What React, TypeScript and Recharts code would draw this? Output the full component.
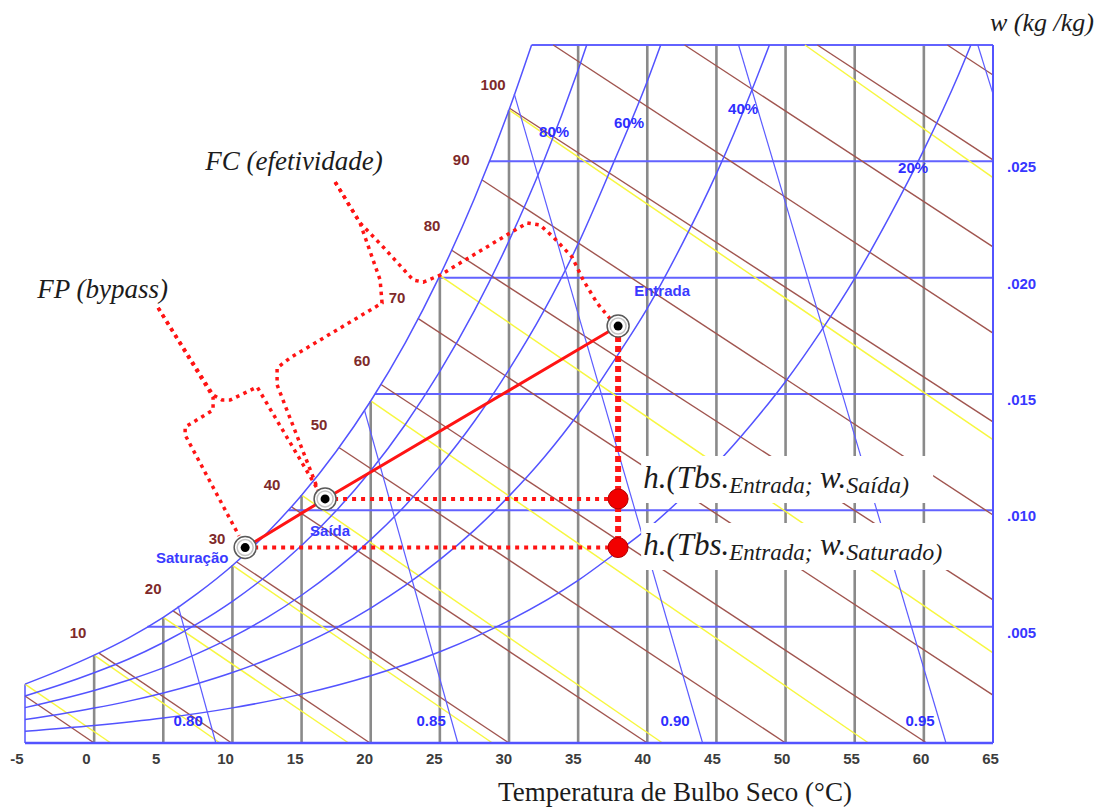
import React from 'react';
import { ComposedChart, Line, XAxis, YAxis, Label } from 'recharts';

// ---------- axis ticks ----------
const xTicks = [-5, 0, 5, 10, 15, 20, 25, 30, 35, 40, 45, 50, 55, 60, 65];
const yTicks = [0.005, 0.01, 0.015, 0.02, 0.025];
const yTickLabels = ['.005', '.010', '.015', '.020', '.025'];

// ---------- curves: [dry bulb °C, humidity ratio kg/kg] ----------
const saturation = [
  [-5, 0.00253], [-2.5, 0.00312], [0, 0.003775], [2.5, 0.00452], [5, 0.0054], [7.5, 0.00644],
  [10, 0.00763], [12.5, 0.00903], [15, 0.01065], [17.5, 0.01253], [20, 0.0147], [22.5, 0.0172],
  [25, 0.02009], [27.5, 0.0234], [30, 0.02721], [31.63, 0.03],
];
const rh80 = [
  [-5, 0.00202], [-2.5, 0.00249], [0, 0.00302], [2.5, 0.00361], [5, 0.00432], [7.5, 0.00514],
  [10, 0.00609], [12.5, 0.0072], [15, 0.00849], [17.5, 0.00998], [20, 0.0117], [22.5, 0.01369],
  [25, 0.01597], [27.5, 0.01858], [30, 0.02158], [32.5, 0.02499], [35, 0.02893], [35.62, 0.03],
];
const rh60 = [
  [-5, 0.00152], [-2.5, 0.00187], [0, 0.00226], [2.5, 0.00271], [5, 0.00323], [7.5, 0.00385],
  [10, 0.00456], [12.5, 0.00539], [15, 0.00635], [17.5, 0.00746], [20, 0.00874], [22.5, 0.01021],
  [25, 0.0119], [27.5, 0.01383], [30, 0.01605], [32.5, 0.01855], [35, 0.02145], [37.5, 0.02486],
  [40, 0.02844], [40.97, 0.03],
];
const rh40 = [
  [-5, 0.00101], [-2.5, 0.00124], [0, 0.0015], [2.5, 0.0018], [5, 0.00215], [7.5, 0.00256],
  [10, 0.00303], [12.5, 0.00358], [15, 0.00422], [17.5, 0.00495], [20, 0.0058], [22.5, 0.00677],
  [25, 0.00788], [27.5, 0.00915], [30, 0.01061], [32.5, 0.01225], [35, 0.01414], [37.5, 0.01635],
  [40, 0.01868], [42.5, 0.02142], [45, 0.02447], [47.5, 0.02797], [48.83, 0.03],
];
const rh20 = [
  [-5, 0.0005], [0, 0.00075], [5, 0.00107], [10, 0.00151], [15, 0.0021], [20, 0.00289],
  [25, 0.00392], [30, 0.00526], [35, 0.00699], [37.5, 0.00807], [40, 0.0092], [42.5, 0.01053],
  [45, 0.012], [47.5, 0.01368], [50, 0.01554], [52.5, 0.01765], [55, 0.01997], [57.5, 0.02261],
  [60, 0.02549], [62.5, 0.02871], [63.4, 0.03],
];

// vertical dry-bulb lines: [T, top humidity ratio]
const dryBulbLines = [
  [0, 0.003775], [5, 0.0054], [10, 0.00763], [15, 0.01065], [20, 0.0147], [25, 0.02009],
  [30, 0.02721], [35, 0.03], [40, 0.03], [45, 0.03], [50, 0.03], [55, 0.03], [60, 0.03],
];
// horizontal humidity lines: [w, start T on saturation]
const humidityLines = [
  [0.005, 3.85], [0.01, 14.05], [0.015, 20.3], [0.02, 24.96], [0.025, 28.55], [0.03, 31.63],
];
// left edge of the chart at -5 °C
const leftEdge = [[-5, 0], [-5, 0.00253]];

// enthalpy lines (kJ/kg): start and end
const enthalpyLines = [
  [[-5, 0.00202], [0, 0]],
  [[0.35, 0.00386], [9.94, 0]],
  [[5.68, 0.00569], [19.95, 0]],
  [[10.29, 0.00779], [30.0, 0]],
  [[14.24, 0.01016], [40.0, 0]],
  [[17.7, 0.0127], [50.0, 0]],
  [[20.72, 0.01542], [60.2, 0]],
  [[23.41, 0.01825], [65, 0.00206]],
  [[25.83, 0.02119], [65, 0.00615]],
  [[28.03, 0.02421], [65, 0.0098]],
  [[30.04, 0.02728], [65, 0.0138]],
  [[33.2, 0.03], [65, 0.01762]],
  [[42.7, 0.03], [65, 0.02132]],
  [[52.3, 0.03], [65, 0.02506]],
  [[61.7, 0.03], [65, 0.02871]],
];
// wet bulb lines
const wetBulbLines = [
  [[-5, 0.00253], [1.2, 0]],
  [[0, 0.003775], [9.1, 0]],
  [[5, 0.0054], [18.4, 0]],
  [[10, 0.00763], [28.8, 0]],
  [[15, 0.01065], [41.1, 0]],
  [[20, 0.0147], [56.0, 0]],
  [[25, 0.02009], [65, 0.00387]],
  [[30, 0.02721], [65, 0.01304]],
  [[51.4, 0.03], [65, 0.0243]],
];
// specific volume lines (m³/kg)
const volumeLines = [
  [[6.07, 0.00589], [8.8, 0]],
  [[19.55, 0.0143], [26.3, 0]],
  [[30.38, 0.0279], [44.0, 0]],
  [[46.6, 0.03], [61.6, 0]],
  [[63.9, 0.03], [65, 0.0279]],
];

// ---------- scale labels ----------
const enthalpyLabels = [
  { t: -1.16, w: 0.00477, label: '10' }, { t: 4.27, w: 0.00662, label: '20' },
  { t: 8.89, w: 0.00877, label: '30' }, { t: 12.87, w: 0.01109, label: '40' },
  { t: 16.27, w: 0.01371, label: '50' }, { t: 19.38, w: 0.01646, label: '60' },
  { t: 21.91, w: 0.01913, label: '70' }, { t: 24.44, w: 0.02226, label: '80' },
  { t: 26.54, w: 0.0251, label: '90' }, { t: 28.85, w: 0.02832, label: '100' },
];
const rhLabels = [
  { t: 33.26, w: 0.0263, label: '80%' }, { t: 38.68, w: 0.02669, label: '60%' },
  { t: 46.93, w: 0.02729, label: '40%' }, { t: 59.22, w: 0.02473, label: '20%' },
];
const volumeLabels = [
  { t: 6.8, w: 0.00095, label: '0.80' }, { t: 24.37, w: 0.00095, label: '0.85' },
  { t: 42.01, w: 0.00095, label: '0.90' }, { t: 59.73, w: 0.00095, label: '0.95' },
];

// ---------- process ----------
const statePoints = [
  { t: 37.89, w: 0.01792, label: 'Entrada' },
  { t: 16.7, w: 0.01049, label: 'Saída' },
  { t: 10.92, w: 0.0084, label: 'Saturação' },
];
const stateLabels = [
  { t: 41.07, w: 0.01943, label: 'Entrada' },
  { t: 17.06, w: 0.00915, label: 'Saída' },
  { t: 7.09, w: 0.00799, label: 'Saturação' },
];
const processLine = [[10.92, 0.0084], [16.7, 0.01049], [37.89, 0.01792]];
const enthalpyPoints = [[37.89, 0.01049], [37.89, 0.0084]];
const dottedSaida = [[16.7, 0.01049], [37.89, 0.01049]];
const dottedSaturacao = [[10.92, 0.0084], [37.89, 0.0084]];
const dottedVertical = [[37.89, 0.01792], [37.89, 0.0084]];

const fpBraceA = [
  [4.63, 0.0187], [8.6, 0.01496], [9.26, 0.01474], [9.83, 0.01474], [11.79, 0.0153], [16.2, 0.01087],
];
const fpBraceB = [
  [4.63, 0.0187], [8.6, 0.01487], [8.6, 0.01431], [6.58, 0.01358], [6.58, 0.01324], [10.48, 0.0089],
];
const fcBraceC = [
  [17.43, 0.02411], [19.23, 0.02235], [20.68, 0.0199], [20.82, 0.01891], [14.17, 0.01655],
  [13.23, 0.01612], [13.23, 0.01539], [16.2, 0.01087],
];
const fcBraceD = [
  [17.43, 0.02411], [19.23, 0.02235], [20.9, 0.02132], [23.07, 0.0199], [23.8, 0.01981],
  [25.02, 0.02011], [27.19, 0.02089], [30.08, 0.02192], [31.31, 0.02235], [32.25, 0.02226],
  [33.19, 0.02175], [34.56, 0.02089], [35.36, 0.0199], [36.37, 0.01891], [37.38, 0.01818],
];

const annotations = [
  { t: 8.03, w: 0.02463, label: 'FC (efetividade)' },
  { t: -4.12, w: 0.01913, label: 'FP (bypass)' },
];
const hLabels = [
  { t: 39.7, w: 0.01096, sub: 'Saída)' },
  { t: 39.7, w: 0.00808, sub: 'Saturado)' },
];

// ---------- helpers ----------
const pts = (a: number[][]) => a.map(([t, w]) => ({ t, w }));
const BLUE = '#5353ff';
const SANS = 'Liberation Sans, Arial, sans-serif';
const SERIF = 'Liberation Serif, Times New Roman, serif';

const textDot = (color: string, size: number, prefix: string) => (p: any) => (
  <text
    key={`${prefix}-${p.index}`}
    x={p.cx}
    y={p.cy}
    textAnchor="middle"
    dominantBaseline="central"
    fontFamily={SANS}
    fontWeight="bold"
    fontSize={size}
    fill={color}
  >
    {p.payload.label}
  </text>
);

const ringDot = (p: any) => (
  <g key={`ring-${p.index}`}>
    <circle cx={p.cx} cy={p.cy} r={11} fill="#fff" stroke="#5a5a5a" strokeWidth={1.5} />
    <circle cx={p.cx} cy={p.cy} r={8} fill="none" stroke="#c4c4c4" strokeWidth={1.5} />
    <circle cx={p.cx} cy={p.cy} r={4.5} fill="#000" />
  </g>
);

const redDot = (p: any) => (
  <circle key={`red-${p.index}`} cx={p.cx} cy={p.cy} r={10} fill="#f20000" stroke="#b00000" strokeWidth={1} />
);

const annotationDot = (p: any) => (
  <text
    key={`ann-${p.index}`}
    x={p.cx}
    y={p.cy}
    fontFamily={SERIF}
    fontStyle="italic"
    fontSize={27}
    fill="#1c1c1c"
  >
    {p.payload.label}
  </text>
);

const hLabelDot = (p: any) => {
  const sub: string = p.payload.sub;
  const boxW = 292 + (sub.length - 6) * 6;
  return (
    <g key={`hl-${p.index}`}>
      <rect x={p.cx - 2} y={p.cy - 32} width={boxW} height={47} fill="#fff" />
      <text x={p.cx} y={p.cy} fontFamily={SERIF} fontStyle="italic" fill="#1c1c1c">
        <tspan fontSize={31}>h.(Tbs.</tspan>
        <tspan fontSize={23} dy={5}>Entrada;</tspan>
        <tspan fontSize={31} dy={-5}>{' w.'}</tspan>
        <tspan fontSize={24} dy={5}>{sub}</tspan>
      </text>
    </g>
  );
};

const XTick = (props: any) => {
  const { x, y, payload } = props;
  const v = payload.value;
  return (
    <text
      x={x - 8 + (v + 5) * 0.08}
      y={y + 21}
      textAnchor="middle"
      fontFamily={SANS}
      fontWeight="bold"
      fontSize={15}
      fill="#3c3c3c"
    >
      {v}
    </text>
  );
};

const YTick = (props: any) => {
  const { x, y, payload } = props;
  const i = yTicks.indexOf(payload.value);
  return (
    <text x={x + 14} y={y + 11} textAnchor="start" fontFamily={SANS} fontWeight="bold" fontSize={15} fill="#3838ff">
      {yTickLabels[i]}
    </text>
  );
};

const common = { type: 'linear' as const, dataKey: 'w', dot: false, activeDot: false, isAnimationActive: false };

export default function App() {
  return (
    <div style={{ position: 'absolute', left: 0, top: 0, width: 1102, height: 807, background: '#fff' }}>
      <ComposedChart width={1102} height={807} margin={{ top: 45, right: 0, bottom: 0, left: 25 }}>
        <XAxis
          dataKey="t"
          type="number"
          domain={[-5, 65]}
          ticks={xTicks}
          height={64}
          tickSize={0}
          tickMargin={0}
          tickLine={false}
          axisLine={{ stroke: BLUE, strokeWidth: 2.5 }}
          tick={<XTick />}
        >
          <Label
            content={(p: any) => (
              <text x={p.viewBox.x + 650} y={p.viewBox.y + 58} textAnchor="middle" fontFamily={SERIF} fontSize={27} fill="#1c1c1c">
                Temperatura de Bulbo Seco (°C)
              </text>
            )}
          />
        </XAxis>
        <YAxis
          type="number"
          orientation="right"
          domain={[0, 0.03]}
          ticks={yTicks}
          width={109}
          tickSize={0}
          tickMargin={0}
          tickLine={false}
          axisLine={{ stroke: BLUE, strokeWidth: 2 }}
          tick={<YTick />}
        >
          <Label
            content={(p: any) => (
              <text x={p.viewBox.x - 3} y={p.viewBox.y - 14} textAnchor="start" fontFamily={SERIF} fontStyle="italic" fontSize={26} fill="#1c1c1c">
                w (kg /kg)
              </text>
            )}
          />
        </YAxis>

        {/* dry bulb verticals */}
        {dryBulbLines.map(([t, top], i) => (
          <Line key={`db-${i}`} {...common} data={pts([[t, 0], [t, top]])} stroke="#8a8a8a" strokeWidth={2.6} />
        ))}
        {/* humidity horizontals */}
        {humidityLines.map(([w, t0], i) => (
          <Line key={`hw-${i}`} {...common} data={pts([[t0, w], [65, w]])} stroke="#6262ff" strokeWidth={2} />
        ))}
        <Line key="left" {...common} data={pts(leftEdge)} stroke={BLUE} strokeWidth={1.5} />
        {/* enthalpy */}
        {enthalpyLines.map((seg, i) => (
          <Line key={`h-${i}`} {...common} data={pts(seg)} stroke="#a0554f" strokeWidth={1.4} />
        ))}
        {/* wet bulb */}
        {wetBulbLines.map((seg, i) => (
          <Line key={`wb-${i}`} {...common} data={pts(seg)} stroke="#f7f740" strokeWidth={1.5} />
        ))}
        {/* relative humidity */}
        {[rh20, rh40, rh60, rh80, saturation].map((c, i) => (
          <Line key={`rh-${i}`} {...common} type="monotone" data={pts(c)} stroke={BLUE} strokeWidth={1.5} />
        ))}
        {/* specific volume */}
        {volumeLines.map((seg, i) => (
          <Line key={`v-${i}`} {...common} data={pts(seg)} stroke="#5c5cff" strokeWidth={1.2} />
        ))}

        {/* scale labels */}
        <Line {...common} data={enthalpyLabels} stroke="none" dot={textDot('#7e2a2a', 15, 'hl')} />
        <Line {...common} data={rhLabels} stroke="none" dot={textDot('#2f2fff', 15, 'rl')} />
        <Line {...common} data={volumeLabels} stroke="none" dot={textDot('#2f2fff', 15, 'vl')} />
        <Line {...common} data={stateLabels} stroke="none" dot={textDot('#3a3aff', 15, 'sl')} />

        {/* process */}
        <Line {...common} data={pts(processLine)} stroke="#ff1414" strokeWidth={3} />
        <Line {...common} data={pts(dottedSaida)} stroke="#ff1414" strokeWidth={4} strokeDasharray="4 5" />
        <Line {...common} data={pts(dottedSaturacao)} stroke="#ff1414" strokeWidth={4} strokeDasharray="4 5" />
        <Line {...common} data={pts(dottedVertical)} stroke="#ff1414" strokeWidth={6} strokeDasharray="6 4" />
        {[fpBraceA, fpBraceB, fcBraceC, fcBraceD].map((b, i) => (
          <Line key={`br-${i}`} {...common} data={pts(b)} stroke="#ff1414" strokeWidth={3.5} strokeDasharray="3.5 4.5" />
        ))}
        <Line {...common} data={statePoints} stroke="none" dot={ringDot} />
        <Line {...common} data={pts(enthalpyPoints)} stroke="none" dot={redDot} />

        {/* annotations */}
        <Line {...common} data={annotations} stroke="none" dot={annotationDot} />
        <Line {...common} data={hLabels} stroke="none" dot={hLabelDot} />
      </ComposedChart>
    </div>
  );
}
